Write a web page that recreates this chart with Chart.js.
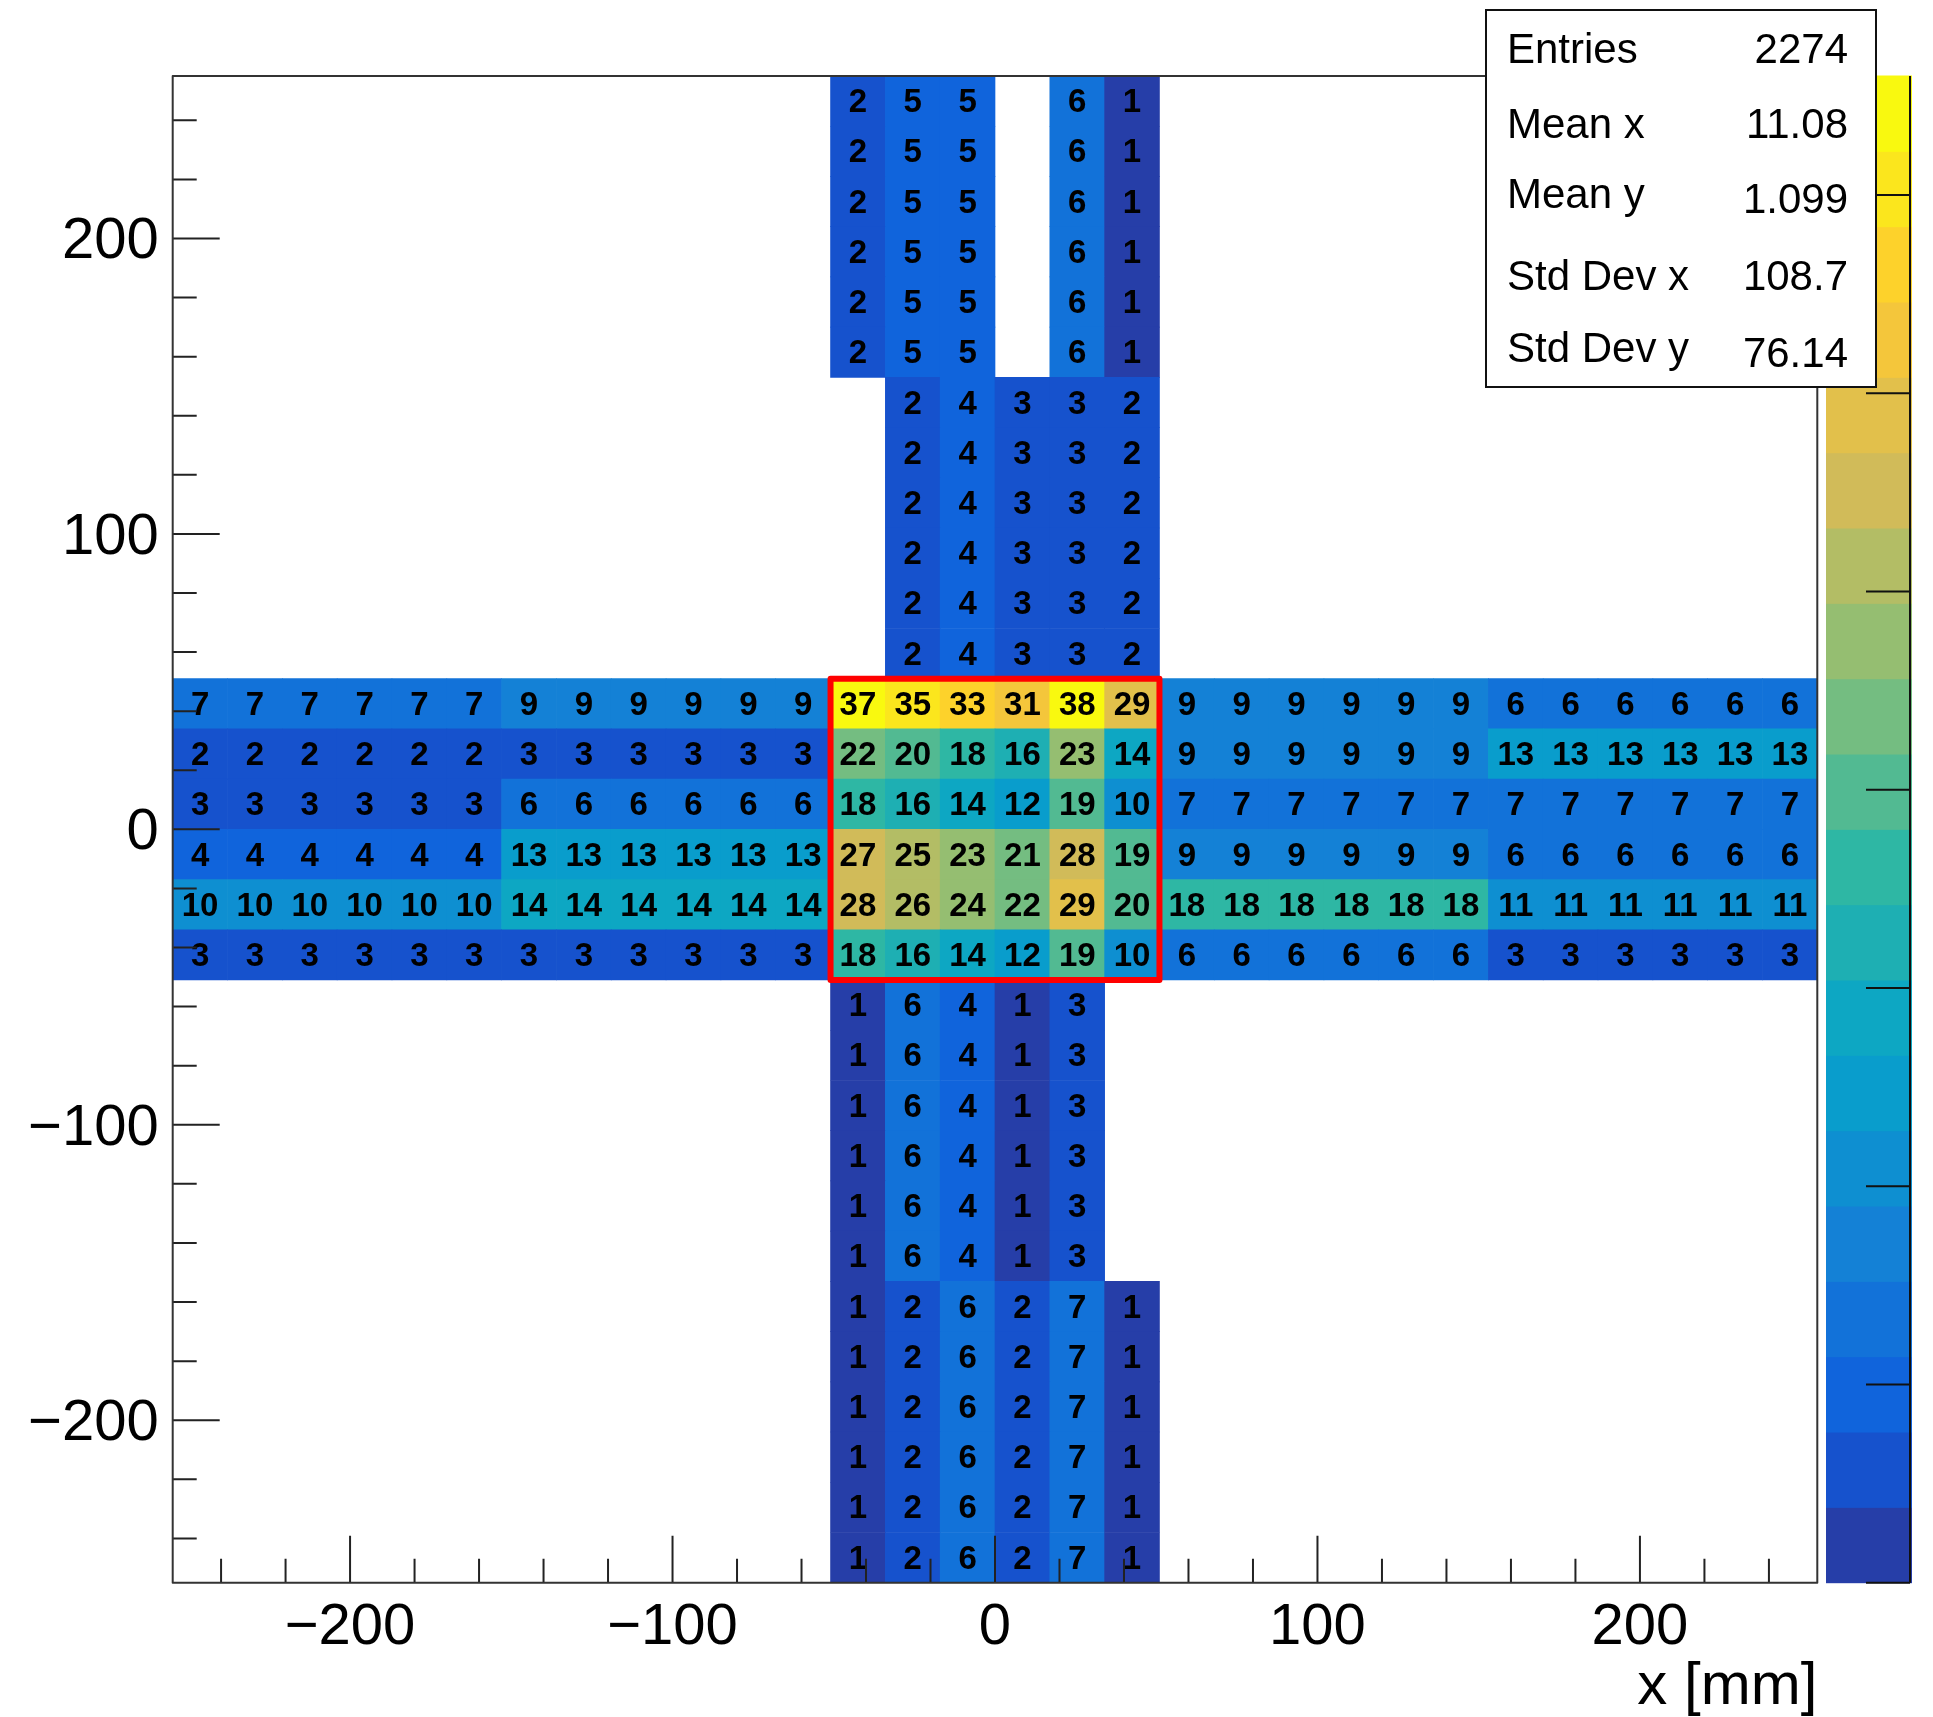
<!DOCTYPE html>
<html>
<head>
<meta charset="utf-8">
<script src="https://cdn.jsdelivr.net/npm/chart.js@4"></script>
<style>
  html, body { margin: 0; padding: 0; background: #fff; }
  canvas { display: block; }
</style>
</head>
<body>
<canvas id="hist" width="1933" height="1717"></canvas>
<script>
// histogram binning (30 x 30 bins of 17 mm)
const xMin = -255, xMax = 255, yMin = -255, yMax = 255, binW = 17, binH = 17;
const zMax = 38, nContours = 20;

// horizontal band, one array per row, from top (y 34..51) to bottom (y -51..-34)
const band51 = [7, 7, 7, 7, 7, 7, 9, 9, 9, 9, 9, 9, 37, 35, 33, 31, 38, 29, 9, 9, 9, 9, 9, 9, 6, 6, 6, 6, 6, 6];
const band34 = [2, 2, 2, 2, 2, 2, 3, 3, 3, 3, 3, 3, 22, 20, 18, 16, 23, 14, 9, 9, 9, 9, 9, 9, 13, 13, 13, 13, 13, 13];
const band17 = [3, 3, 3, 3, 3, 3, 6, 6, 6, 6, 6, 6, 18, 16, 14, 12, 19, 10, 7, 7, 7, 7, 7, 7, 7, 7, 7, 7, 7, 7];
const band0 = [4, 4, 4, 4, 4, 4, 13, 13, 13, 13, 13, 13, 27, 25, 23, 21, 28, 19, 9, 9, 9, 9, 9, 9, 6, 6, 6, 6, 6, 6];
const bandM17 = [10, 10, 10, 10, 10, 10, 14, 14, 14, 14, 14, 14, 28, 26, 24, 22, 29, 20, 18, 18, 18, 18, 18, 18, 11, 11, 11, 11, 11, 11];
const bandM34 = [3, 3, 3, 3, 3, 3, 3, 3, 3, 3, 3, 3, 18, 16, 14, 12, 19, 10, 6, 6, 6, 6, 6, 6, 3, 3, 3, 3, 3, 3];
const bandRows = [band51, band34, band17, band0, bandM17, bandM34];
const bandTops = [51, 34, 17, 0, -17, -34];

// vertical arm, columns x -51..51, each block is 6 identical rows
const armTopOuter = [2, 5, 5, 0, 6, 1];    // y 153..255
const armTopInner = [0, 2, 4, 3, 3, 2];    // y 51..153
const armBottomInner = [1, 6, 4, 1, 3, 0]; // y -153..-51
const armBottomOuter = [1, 2, 6, 2, 7, 1]; // y -255..-153
const armBlocks = [[armTopOuter, 255], [armTopInner, 153], [armBottomInner, -51], [armBottomOuter, -153]];
const armFirstCol = 12;

const redBoxX = [-51, 51], redBoxY = [-51, 51];
const axisTicks = [-240, -220, -200, -180, -160, -140, -120, -100, -80, -60, -40, -20, 0,
  20, 40, 60, 80, 100, 120, 140, 160, 180, 200, 220, 240];
const axisLabels = [-200, -100, 0, 100, 200];
const zTicks = [0, 5, 10, 15, 20, 25, 30, 35];

const statLabels = ["Entries", "Mean x", "Mean y", "Std Dev x", "Std Dev y"];
const statValues = ["2274", "11.08", "1.099", "108.7", "76.14"];

const FONT = "'Liberation Sans', Arial, Helvetica, sans-serif";

// ROOT kBird palette, 255 colours
const stops = [0.0, 0.125, 0.25, 0.375, 0.5, 0.625, 0.75, 0.875, 1.0];
const red = [0.2082, 0.0592, 0.0780, 0.0232, 0.1802, 0.5301, 0.8186, 0.9956, 0.9764];
const green = [0.1664, 0.3599, 0.5041, 0.6419, 0.7178, 0.7492, 0.7328, 0.7862, 0.9832];
const blue = [0.5293, 0.8684, 0.8385, 0.7914, 0.6425, 0.4662, 0.3499, 0.1968, 0.0539];
const palette = [];
for (let g = 1; g < stops.length; g++) {
  const n = Math.floor(255 * stops[g]) - Math.floor(255 * stops[g - 1]);
  for (let c = 0; c < n; c++) {
    const r = red[g - 1] + c * (red[g] - red[g - 1]) / n;
    const gr = green[g - 1] + c * (green[g] - green[g - 1]) / n;
    const b = blue[g - 1] + c * (blue[g] - blue[g - 1]) / n;
    palette.push(`rgb(${Math.round(r * 255)},${Math.round(gr * 255)},${Math.round(b * 255)})`);
  }
}
function bandColor(k) {
  let idx = Math.floor((k + 0.99) * palette.length / nContours);
  return palette[Math.min(idx, palette.length - 1)];
}
function valueColor(v) {
  let k = Math.floor(0.01 + v * nContours / zMax);
  return bandColor(Math.min(k, nContours - 1));
}

const cells = [];
function addCell(col, yTop, v) {
  if (!v) return;
  cells.push({ x: xMin + (col + 0.5) * binW, y: [yTop - binH, yTop], v: v });
}
bandRows.forEach((row, r) => row.forEach((v, c) => addCell(c, bandTops[r], v)));
armBlocks.forEach(([vals, top]) => {
  for (let k = 0; k < 6; k++) vals.forEach((v, j) => addCell(armFirstCol + j, top - k * binH, v));
});

const fmt = v => (v < 0 ? "\u2212" + Math.abs(v) : String(v));

const rootPlugin = {
  id: "rootDecor",
  afterDatasetsDraw(chart) {
    const ctx = chart.ctx;
    const { left, right, top, bottom } = chart.chartArea;
    const xs = chart.scales.x, ys = chart.scales.y;

    // bin contents
    ctx.save();
    ctx.fillStyle = "#000";
    ctx.font = "bold 33px " + FONT;
    ctx.textAlign = "center";
    ctx.textBaseline = "middle";
    chart.getDatasetMeta(0).data.forEach((bar, i) => {
      const p = bar.getProps(["x", "y", "base"], true);
      ctx.fillText(String(cells[i].v), p.x, (p.y + p.base) / 2 + 2);
    });

    // red box around centre
    ctx.strokeStyle = "#ff0000";
    ctx.lineWidth = 6;
    ctx.lineJoin = "round";
    const bx0 = xs.getPixelForValue(redBoxX[0]), bx1 = xs.getPixelForValue(redBoxX[1]);
    const by0 = ys.getPixelForValue(redBoxY[1]), by1 = ys.getPixelForValue(redBoxY[0]);
    ctx.strokeRect(bx0, by0, bx1 - bx0, by1 - by0);

    // inward tick marks
    ctx.strokeStyle = "#222";
    ctx.lineWidth = 2;
    ctx.beginPath();
    axisTicks.forEach(t => {
      const len = t % 100 === 0 ? 47 : 24;
      const px = xs.getPixelForValue(t);
      ctx.moveTo(px, bottom); ctx.lineTo(px, bottom - len);
      const py = ys.getPixelForValue(t);
      ctx.moveTo(left, py); ctx.lineTo(left + len, py);
    });
    ctx.stroke();

    // frame
    ctx.strokeStyle = "#333";
    ctx.lineWidth = 2;
    ctx.strokeRect(left, top, right - left, bottom - top);
    ctx.restore();
  },
  afterDraw(chart) {
    const ctx = chart.ctx;
    const { top, bottom } = chart.chartArea;
    ctx.save();

    // colour bar
    const cx0 = 1826, cx1 = 1912, axisX = 1910;
    const h = (bottom - top) / nContours;
    for (let k = 0; k < nContours; k++) {
      ctx.fillStyle = bandColor(k);
      ctx.fillRect(cx0, bottom - (k + 1) * h - 0.5, cx1 - cx0, h + 1);
    }
    ctx.strokeStyle = "#111";
    ctx.lineWidth = 2;
    ctx.beginPath();
    ctx.moveTo(axisX, top); ctx.lineTo(axisX, bottom);
    zTicks.forEach(z => {
      const py = bottom - z / zMax * (bottom - top);
      ctx.moveTo(axisX, py); ctx.lineTo(axisX - 44, py);
    });
    ctx.stroke();

    // statistics box
    const sx0 = 1486, sx1 = 1876, sy0 = 10, sy1 = 387;
    ctx.fillStyle = "#fff";
    ctx.fillRect(sx0, sy0, sx1 - sx0, sy1 - sy0);
    ctx.strokeStyle = "#111";
    ctx.lineWidth = 2;
    ctx.strokeRect(sx0, sy0, sx1 - sx0, sy1 - sy0);
    ctx.fillStyle = "#000";
    ctx.font = "42px " + FONT;
    ctx.textBaseline = "alphabetic";
    const labelBase = [63, 138, 208, 290, 362];
    const valueBase = [63, 138, 213, 290, 367];
    statLabels.forEach((s, i) => {
      ctx.textAlign = "left";
      ctx.fillText(s, 1507, labelBase[i]);
      ctx.textAlign = "right";
      ctx.fillText(statValues[i], 1848, valueBase[i]);
    });
    ctx.restore();
  }
};

new Chart(document.getElementById("hist"), {
  type: "bar",
  data: {
    datasets: [{
      data: cells,
      backgroundColor: c => valueColor(c.raw.v),
      borderWidth: 0,
      barPercentage: 1,
      categoryPercentage: 1
    }]
  },
  options: {
    responsive: false,
    animation: false,
    devicePixelRatio: 1,
    layout: { padding: { left: 0, top: 76, right: 115.7, bottom: 0 } },
    plugins: { legend: { display: false }, tooltip: { enabled: false } },
    scales: {
      x: {
        type: "linear",
        min: xMin,
        max: xMax,
        offset: false,
        afterBuildTicks: s => { s.ticks = axisTicks.map(v => ({ value: v })); },
        afterFit: s => { s.height = 134.3; },
        grid: { display: false, drawTicks: false, offset: false },
        border: { display: false },
        ticks: {
          autoSkip: false,
          maxRotation: 0,
          padding: 10,
          color: "#000",
          font: { family: FONT, size: 58 },
          callback: v => (axisLabels.includes(v) ? fmt(v) : "")
        },
        title: {
          display: true,
          text: "x [mm]",
          align: "end",
          color: "#000",
          padding: 0,
          font: { family: FONT, size: 60, lineHeight: 1 }
        }
      },
      y: {
        type: "linear",
        min: yMin,
        max: yMax,
        afterBuildTicks: s => { s.ticks = axisTicks.map(v => ({ value: v })); },
        afterFit: s => { s.width = 172.7; },
        grid: { display: false, drawTicks: false },
        border: { display: false },
        ticks: {
          autoSkip: false,
          padding: 14,
          labelOffset: 4,
          color: "#000",
          font: { family: FONT, size: 58 },
          callback: v => (axisLabels.includes(v) ? fmt(v) : "")
        }
      }
    }
  },
  plugins: [rootPlugin]
});
</script>
</body>
</html>
